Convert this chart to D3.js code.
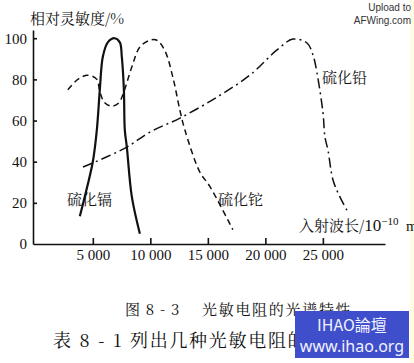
<!DOCTYPE html>
<html>
<head>
<meta charset="utf-8">
<style>
body { margin: 0; background: #fff; }
.cjk { font-family: "Noto Serif CJK SC", "Noto Sans CJK SC", sans-serif; }
.num { font-family: "Liberation Serif", "DejaVu Serif", serif; }
</style>
</head>
<body>
<svg width="414" height="363"></svg>
<script src="https://d3js.org/d3.v7.min.js"></script>
<script>
var svg = d3.select("svg");

// relative sensitivity (%) against incident wavelength (10^-10 m)
var cdsWave = [3870, 4300, 5000, 5350, 5610, 5870, 6300, 6900, 7350, 7520, 7700, 7780, 7960, 8390, 9090];
var cdsSens = [13.5, 23, 40, 55.5, 75, 91, 98, 100, 98, 91, 75, 55.5, 47, 23, 5];

var tlsWave = [2830, 3700, 4560, 5350, 5610, 6040, 6650, 7260, 7610, 8390, 9090, 9960, 10570, 11260, 11960, 12570, 13000, 14300, 15170, 17170];
var tlsSens = [75, 80, 82, 80, 74, 68.6, 67, 68.6, 72.5, 86, 95.7, 99, 99, 94, 81, 65, 55.5, 35, 28, 7];

var pbsWave = [4150, 7800, 9970, 12580, 15800, 18660, 21010, 22400, 23620, 24140, 24490, 25010, 25180, 25440, 25880, 26490, 27180];
var pbsSens = [37.4, 46.6, 54.4, 61.2, 71.4, 82.1, 94.3, 99.6, 97.7, 91.8, 83.1, 63.7, 52, 45.7, 31.1, 22.8, 15.5];

var xTicks = [5000, 10000, 15000, 20000, 25000];
var xTickLabels = ["5 000", "10 000", "15 000", "20 000", "25 000"];
var yTicks = [0, 20, 40, 60, 80, 100];

var x = d3.scaleLinear().domain([-200, 30400]).range([33, 385]);
var y = d3.scaleLinear().domain([0, 104]).range([244, 30]);

// faint paper strip on the right edge
svg.append("rect").attr("x", 410).attr("y", 0).attr("width", 4).attr("height", 363).attr("fill", "#fdfbe2");

var gx = svg.append("g").attr("transform", "translate(0," + y(0) + ")")
  .call(d3.axisBottom(x).tickValues(xTicks).tickSize(-6).tickSizeOuter(0).tickPadding(5)
    .tickFormat(function(d, i) { return xTickLabels[i]; }));
var gy = svg.append("g").attr("transform", "translate(" + x(-200) + ",0)")
  .call(d3.axisLeft(y).tickValues(yTicks).tickSize(-4).tickSizeOuter(0).tickPadding(6));
[gx, gy].forEach(function(g) {
  g.selectAll("path, line").attr("stroke", "#111").attr("stroke-width", 1.6);
  g.selectAll("text").attr("class", "num").attr("font-size", 15).attr("fill", "#111").attr("font-family", null);
});
gy.selectAll(".tick").filter(function(d) { return d === 0; }).select("line").remove();

var line = d3.line()
  .x(function(d) { return x(d[0]); })
  .y(function(d) { return y(d[1]); })
  .curve(d3.curveCatmullRom.alpha(0.5));

function pairs(a, b) { return a.map(function(v, i) { return [v, b[i]]; }); }

svg.append("path").attr("d", line(pairs(tlsWave, tlsSens)))
  .attr("fill", "none").attr("stroke", "#111").attr("stroke-width", 1.5).attr("stroke-dasharray", "6,4");
svg.append("path").attr("d", line(pairs(pbsWave, pbsSens)))
  .attr("fill", "none").attr("stroke", "#111").attr("stroke-width", 1.5).attr("stroke-dasharray", "10,4,2,4");
svg.append("path").attr("d", line(pairs(cdsWave, cdsSens)))
  .attr("fill", "none").attr("stroke", "#111").attr("stroke-width", 2.2);

function label(t, px, py, size, spacing) {
  return svg.append("text").attr("class", "cjk").attr("x", px).attr("y", py)
    .attr("font-size", size).attr("fill", "#111").attr("letter-spacing", spacing || 0)
    .style("white-space", "pre").text(t);
}

label("相对灵敏度/%", 30, 24, 15);
label("硫化铅", 322, 83, 15);
label("硫化镉", 67, 205, 15);
label("硫化铊", 218, 205, 15);

var xl = label("入射波长/", 299, 231, 15);
xl.append("tspan").attr("class", "num").attr("font-size", 17).text("10");
xl.append("tspan").attr("class", "num").attr("font-size", 11).attr("dy", -6).text("−10");
xl.append("tspan").attr("class", "num").attr("font-size", 15).attr("dy", 6).text("  m");

label("图 8 - 3", 125, 315, 15, 1);
label("光敏电阻的光谱特性", 202, 315, 15, 1.7);
label("表 8 - 1", 53, 347, 18, 2);
label("列出几种光敏电阻的", 130, 347, 18, 1.7);

// watermarks
svg.append("text").attr("x", 411).attr("y", 11).attr("text-anchor", "end")
  .attr("font-family", "Arial, 'Liberation Sans', sans-serif").attr("font-size", 10).attr("fill", "#333").text("Upload to");
svg.append("text").attr("x", 411).attr("y", 24).attr("text-anchor", "end")
  .attr("font-family", "Arial, 'Liberation Sans', sans-serif").attr("font-size", 10).attr("fill", "#333").text("AFWing.com");

svg.append("rect").attr("x", 295).attr("y", 311).attr("width", 114).attr("height", 47).attr("fill", "#3f4ecb");
svg.append("text").attr("x", 352).attr("y", 331).attr("text-anchor", "middle")
  .attr("font-family", "'Noto Sans CJK TC', sans-serif").attr("font-size", 16).attr("fill", "#f2f2ff").text("IHAO論壇");
svg.append("text").attr("x", 352).attr("y", 352).attr("text-anchor", "middle")
  .attr("font-family", "'Noto Sans', sans-serif").attr("font-size", 16).attr("fill", "#f2f2ff").text("www.ihao.org");
</script>
</body>
</html>
